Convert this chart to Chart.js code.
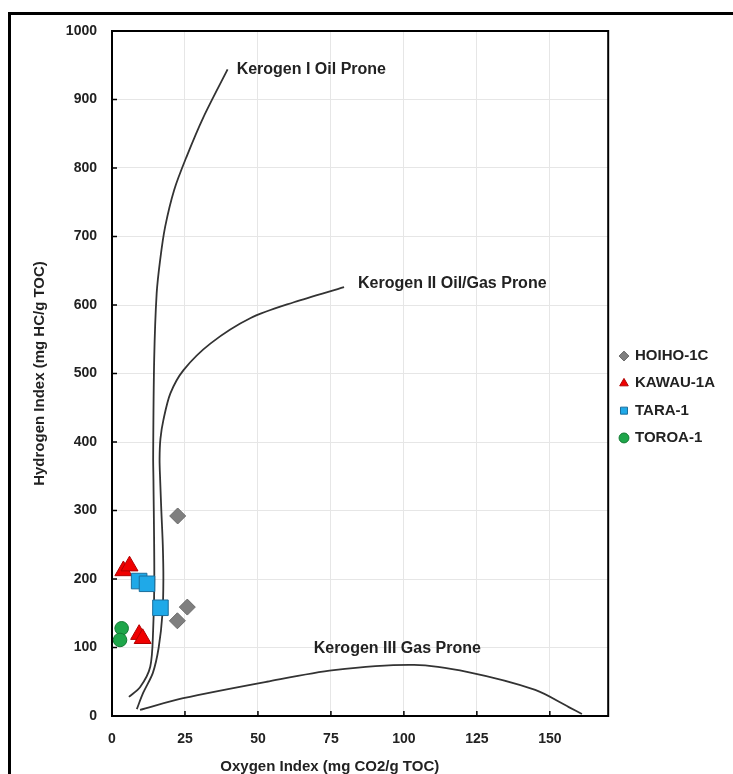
<!DOCTYPE html>
<html>
<head>
<meta charset="utf-8">
<title>Van Krevelen plot</title>
<script src="https://cdn.jsdelivr.net/npm/chart.js@4.4.1/dist/chart.umd.min.js"></script>
<style>
  html, body { margin: 0; padding: 0; background: #fff; }
  #wrap { position: relative; width: 733px; height: 774px; overflow: hidden; }
  #frame { position: absolute; left: 8px; top: 12px; width: 800px; height: 800px;
           border-left: 3px solid #000; border-top: 3px solid #000; }
  #chart { position: absolute; left: 0; top: 0; }
</style>
</head>
<body>
<div id="wrap">
  <div id="frame"></div>
  <canvas id="chart" width="733" height="774"></canvas>
</div>
<script>
// sample wells: oxygen index (x) and hydrogen index (y)
const hoihoOI = [22.5, 22.4, 25.8];
const hoihoHI = [292, 139, 159];
const kawauOI = [3.9, 6.0, 9.3, 10.5];
const kawauHI = [212, 219, 119, 113];
const taraOI = [9.3, 12.0, 16.6];
const taraHI = [197, 193, 158];
const toroaOI = [3.3, 2.75];
const toroaHI = [128, 111];

// kerogen type guide curves
const ker1OI = [5.8, 9.6, 13.1, 14.1, 14.5, 14.2, 14.1, 14.45, 15.3, 16.5, 18.2, 21.3, 25.5, 31.3, 39.6];
const ker1HI = [28, 42, 72, 126, 199, 345, 378, 520, 617, 666, 714, 768, 816, 874, 944];
const ker2OI = [8.5, 10.7, 14.0, 16.0, 17.3, 17.6, 17.4, 16.9, 16.5, 16.3, 16.6, 17.6, 20.0, 24.5, 33.8, 47.5, 62.3, 79.5];
const ker2HI = [10, 34, 63, 100, 150, 200, 250, 300, 345, 375, 405, 432, 471, 505, 544, 581, 604, 626];
const ker3OI = [9.6, 24.4, 53, 76, 103.5, 122, 145, 156.5, 161];
const ker3HI = [9, 26, 50, 67, 74.5, 64, 38, 13, 3];

const xTicks = [0, 25, 50, 75, 100, 125, 150];
const yTicks = [0, 100, 200, 300, 400, 500, 600, 700, 800, 900, 1000];

// curve labels: [text, x, y]
const curveLabels = [
  ['Kerogen I Oil Prone', 42.7, 944],
  ['Kerogen II Oil/Gas Prone', 84.3, 631],
  ['Kerogen III Gas Prone', 69.1, 98]
];

const toPoints = (xs, ys) => xs.map((x, i) => ({ x: x, y: ys[i] }));

const textColor = '#222';
const boldFont = (size) => ({ family: 'Liberation Sans, Arial, sans-serif', size: size, weight: 'bold' });

function sample(label, xs, ys, style, fill, edge, radius, order) {
  return {
    label: label,
    data: toPoints(xs, ys),
    pointStyle: style,
    backgroundColor: fill,
    borderColor: edge,
    borderWidth: 1,
    pointRadius: radius,
    showLine: false,
    order: order
  };
}

function curve(xs, ys) {
  return {
    label: '',
    data: toPoints(xs, ys),
    showLine: true,
    pointRadius: 0,
    borderColor: '#333',
    borderWidth: 1.8,
    tension: 0.3,
    fill: false,
    order: 10
  };
}

const extras = {
  id: 'extras',
  afterDraw(chart) {
    const { ctx, chartArea: a, scales: { x, y } } = chart;
    ctx.save();
    // inside tick marks
    ctx.strokeStyle = '#000';
    ctx.lineWidth = 1.5;
    ctx.beginPath();
    xTicks.forEach(v => {
      const px = x.getPixelForValue(v);
      ctx.moveTo(px, a.bottom);
      ctx.lineTo(px, a.bottom - 5);
    });
    yTicks.forEach(v => {
      const py = y.getPixelForValue(v);
      ctx.moveTo(a.left, py);
      ctx.lineTo(a.left + 5, py);
    });
    ctx.stroke();
    // plot frame
    ctx.lineWidth = 2;
    ctx.strokeRect(a.left, a.top, a.right - a.left, a.bottom - a.top);

    ctx.fillStyle = textColor;
    ctx.font = 'bold 16px "Liberation Sans", Arial, sans-serif';
    ctx.textAlign = 'left';
    ctx.textBaseline = 'middle';
    curveLabels.forEach(l => ctx.fillText(l[0], x.getPixelForValue(l[1]), y.getPixelForValue(l[2])));

    // x axis title
    ctx.font = 'bold 15px "Liberation Sans", Arial, sans-serif';
    ctx.textAlign = 'center';
    ctx.textBaseline = 'alphabetic';
    ctx.fillText('Oxygen Index (mg CO2/g TOC)', x.getPixelForValue(74.6), 771);
    ctx.restore();
  }
};

new Chart(document.getElementById('chart'), {
  type: 'scatter',
  data: {
    datasets: [
      sample('HOIHO-1C', hoihoOI, hoihoHI, 'rectRot', '#7f7f7f', '#6a6a6a', 8, 2),
      sample('KAWAU-1A', kawauOI, kawauHI, 'triangle', '#f00000', '#b00000', 9.8, 2),
      sample('TARA-1', taraOI, taraHI, 'rect', '#1fa9e8', '#1b6e9c', 11, 1),
      sample('TOROA-1', toroaOI, toroaHI, 'circle', '#1ea64a', '#137a33', 6.8, 2),
      curve(ker1OI, ker1HI),
      curve(ker2OI, ker2HI),
      curve(ker3OI, ker3HI)
    ]
  },
  options: {
    responsive: false,
    animation: false,
    events: [],
    layout: { padding: { left: 0, top: 31, right: 8, bottom: 0 } },
    plugins: {
      tooltip: { enabled: false },
      legend: {
        position: 'right',
        fullSize: false,
        title: { display: true, text: ' ', font: { size: 10 }, padding: { top: 0, bottom: 35 } },
        labels: {
          usePointStyle: true,
          boxWidth: 7,
          boxHeight: 7,
          padding: 12.3,
          color: textColor,
          font: boldFont(15),
          filter: item => item.text !== '',
          sort: (a, b) => a.datasetIndex - b.datasetIndex
        }
      }
    },
    scales: {
      x: {
        type: 'linear',
        min: 0,
        max: 170,
        afterFit: s => { s.height = 58; },
        afterBuildTicks: s => { s.ticks = xTicks.map(v => ({ value: v })); },
        grid: { color: '#e6e6e6', drawTicks: false },
        border: { display: false },
        ticks: { padding: 15, color: textColor, font: boldFont(14), maxRotation: 0, callback: v => String(v) }
      },
      y: {
        type: 'linear',
        min: 0,
        max: 1000,
        afterFit: s => { s.width = 112; },
        afterBuildTicks: s => { s.ticks = yTicks.map(v => ({ value: v })); },
        grid: { color: '#e6e6e6', drawTicks: false },
        border: { display: false },
        ticks: { padding: 15, color: textColor, font: boldFont(14), callback: v => String(v) },
        title: {
          display: true,
          text: 'Hydrogen Index (mg HC/g TOC)',
          color: textColor,
          font: boldFont(15),
          padding: { top: 31, bottom: 0 }
        }
      }
    }
  },
  plugins: [extras]
});
</script>
</body>
</html>
